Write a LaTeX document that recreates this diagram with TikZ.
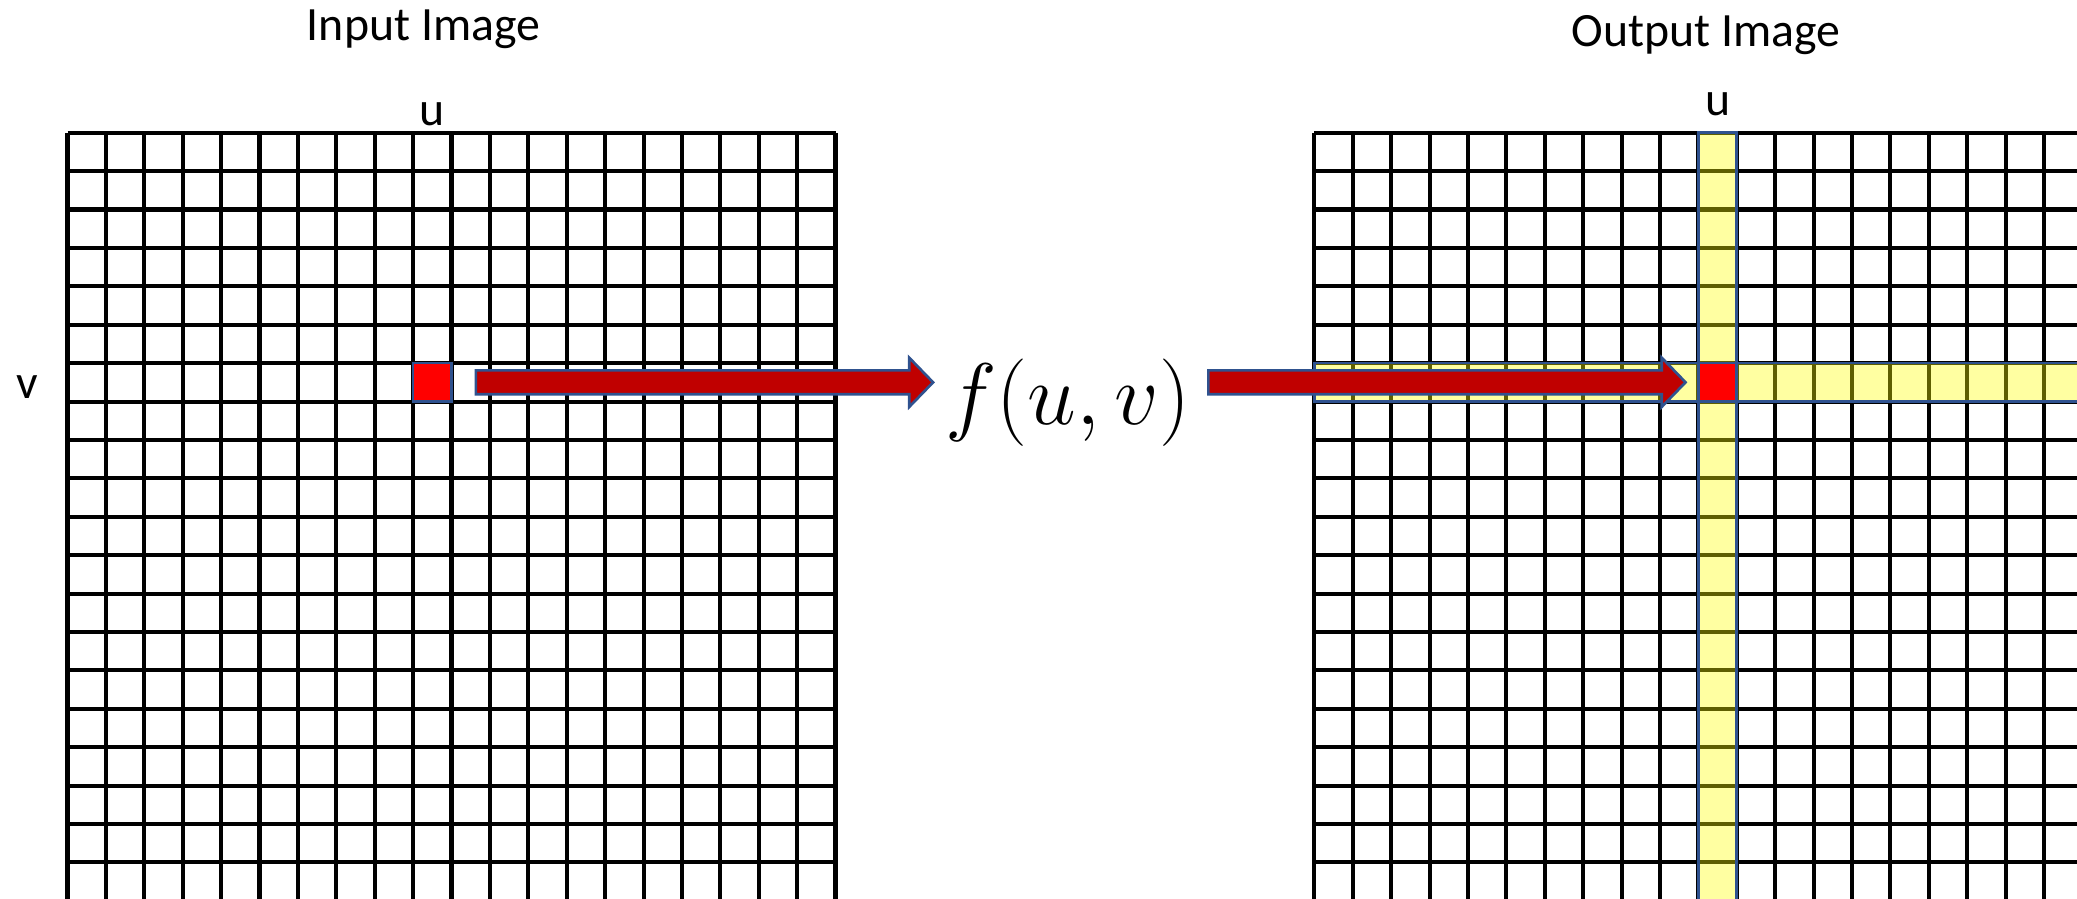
\documentclass[tikz,border=0pt]{standalone}
\usepackage{fontspec}
\setmainfont{Carlito}
\usepackage{tikz}
\usetikzlibrary{calc,positioning}
\definecolor{cellred}{RGB}{255,0,0}
\definecolor{arrowred}{RGB}{192,0,0}
\definecolor{edgeblue}{RGB}{47,82,143}
\definecolor{bandyellow}{RGB}{255,255,0}
\newcommand{\blockarrow}[2]{%
  \draw[blockarr] ($(#1)+(0,0.31)$) -- ($(#2)+(-0.62,0.31)$)
    -- ($(#2)+(-0.62,0.64)$) -- (#2) -- ($(#2)+(-0.62,-0.64)$)
    -- ($(#2)+(-0.62,-0.31)$) -- ($(#1)+(0,-0.31)$) -- cycle;}

\begin{document}
\begin{tikzpicture}[x=0.384cm, y=0.384cm,
    every node/.style={font=\fontsize{13.6}{16}\selectfont},
    gridline/.style={line width=1.15pt, step={(1,1)}},
    pixel/.style={draw=edgeblue, fill=cellred, line width=0.75pt, minimum size=0.384cm, inner sep=0pt},
    band/.style={draw=edgeblue, fill=bandyellow, fill opacity=0.37, line width=0.75pt},
    blockarr/.style={draw=edgeblue, fill=arrowred, line width=0.75pt, line join=miter}]
  \clip (-1.758,3.456) rectangle (52.33,-19.93);
  % input image
  \draw[gridline] (0,0) grid (20,-20);
  \node[anchor=base] (intitle) at (9.27,2.41) {Input Image};
  \node[anchor=base] (inu) at (9.5,0.2) {u};
  \node[anchor=base] (inv) at (-1.06,-6.91) {v};
  \node[pixel] (pixin) at (9.5,-6.5) {};
  % output image
  \begin{scope}[shift={(32.47,0)}]
    \draw[gridline] (0,0) grid (20,-20);
    \draw[band] (10,0) rectangle (11,-20);
    \draw[band] (0,-6) rectangle (20,-7);
    \node[pixel] (pixout) at (10.5,-6.5) {};
    \node[anchor=base] (outtitle) at (10.2,2.24) {Output Image};
    \node[anchor=base] (outu) at (10.5,0.46) {u};
  \end{scope}
  % mapping
  \node[anchor=base, inner sep=0pt, font=\fontsize{34}{40}\selectfont] (fuv) at (26.05,-7.6) {$f(u,v)$};
  \coordinate (in1) at ($(pixin.east)+(0.6,0)$);
  \coordinate (in2) at ($(fuv.west |- pixin)+(-0.3,0)$);
  \coordinate (out1) at ($(fuv.east |- pixout)+(0.45,0)$);
  \coordinate (out2) at ($(pixout.west)+(-0.3,0)$);
  \blockarrow{in1}{in2}
  \blockarrow{out1}{out2}
\end{tikzpicture}
\end{document}
